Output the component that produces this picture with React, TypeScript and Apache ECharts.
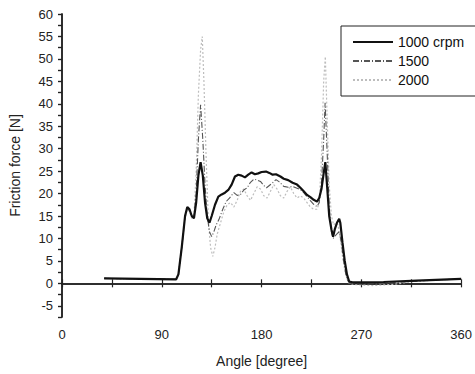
import React, { useEffect, useRef } from "react";
import * as echarts from "echarts";

const angles1000 = [38, 103, 105, 108, 111, 113, 115, 117, 119, 121, 123, 125, 127, 129, 131, 133, 135, 138, 141, 144, 147, 150, 153, 156, 159, 162, 165, 168, 171, 174, 177, 180, 184, 187, 190, 193, 197, 200, 204, 208, 212, 215, 218, 221, 224, 227, 230, 232, 234, 236, 237.5, 239, 241, 243, 244.5, 246, 248, 250, 251, 253, 255, 257, 259, 262, 270, 290, 320, 360];
const values1000 = [1.1, 0.9, 2, 8, 15, 17, 16.5, 15, 14.5, 18, 24, 27, 24, 18, 14.5, 13.5, 15, 17.5, 19.3, 19.8, 20.2, 20.8, 22, 23.8, 24.2, 24, 23.6, 24.2, 24.7, 24.3, 24.5, 24.8, 24.9, 24.6, 24.2, 24.3, 23.8, 23.3, 23, 22.4, 22, 21.3, 20.5, 19.7, 19.2, 18.6, 18.2, 19, 21, 24.5, 27, 22, 15, 12, 10.4, 12, 13.5, 14.4, 13.5, 9, 5, 2, 0.4, 0.2, 0.2, 0.3, 0.6, 1.0];

const angles1500 = [38, 103, 105, 108, 111, 113, 115, 117, 119, 121, 123, 125, 127, 129, 131, 133, 135, 137, 139, 141.5, 145, 148, 151, 155, 158, 161, 164, 167, 170, 173, 176, 179, 182, 184.5, 187, 190, 193, 196, 200, 204, 208, 212, 215, 218, 221, 224, 227, 230, 232, 234, 236, 237.3, 239, 241, 243, 244.5, 246, 248, 250, 252, 254, 256, 258, 260, 270, 290, 320, 360];
const values1500 = [1.1, 0.9, 2, 8, 15, 16.8, 16.2, 15, 14.8, 20, 32, 39.8, 32, 22, 15, 11.5, 10.4, 11.5, 13, 14.2, 16.5, 18.2, 19, 20.2, 19.6, 19.8, 20.8, 21.3, 22.5, 23.2, 23, 22.7, 21.8, 21.3, 21.8, 22.4, 23.1, 22.6, 21.6, 21.4, 21.6, 21.2, 20.9, 20.2, 19.3, 18.4, 17.6, 17.1, 18, 22, 32, 40.2, 30, 17, 11.5, 10, 10.5, 11, 11.5, 9, 5, 2, 0.5, 0, -0.2, 0, 0.5, 1];

const angles2000 = [38, 103, 105, 108, 111, 113, 115, 117, 119, 121, 123, 125, 126.5, 128, 130, 132, 134, 136, 138, 140, 143, 146, 149, 152, 155, 158, 161, 164, 167, 170, 173, 176, 179, 182, 185, 188, 191, 194, 197, 200, 203, 206, 209, 212, 215, 218, 221, 224, 227, 230, 232, 234, 236, 237.5, 239, 241, 243, 245, 247, 249, 251, 253, 255, 257, 259, 265, 280, 300, 320, 360];
const values2000 = [1.1, 0.9, 2, 8, 14.5, 16.5, 16, 14.5, 15, 25, 42, 52, 55, 45, 28, 14, 8, 6, 8, 11, 13.5, 16, 17.5, 18, 17, 18.5, 20.5, 21, 19.5, 18.5, 20, 21.5, 21, 19.5, 19, 20.5, 22, 21, 19.5, 19, 20.5, 21.5, 20, 19, 19.5, 19, 18, 17, 16.5, 16.5, 18, 28, 45, 50.5, 38, 22, 15, 13, 13.5, 13, 10, 6, 3, 1, 0, -0.3, -0.5, -0.2, 0.5, 1];

const seriesNames = ["1000 crpm", "1500", "2000"];
const xTickLabels = [0, 90, 180, 270, 360];

const FONT = "'Liberation Sans', Arial, sans-serif";

function pairs(xs: number[], ys: number[]) {
  return xs.map((x, i) => [x, ys[i]]);
}

export default function App() {
  const ref = useRef<HTMLDivElement>(null);
  useEffect(() => {
    if (!ref.current) return;
    const chart = echarts.init(ref.current, undefined, { renderer: "svg" });
    const axisLine = { show: true, lineStyle: { color: "#222", width: 1.5 } };
    const option: any = {
      animation: false,
      backgroundColor: "#fff",
      textStyle: { fontFamily: FONT },
      grid: { left: 62, right: 11, top: 14, bottom: 57 },
      legend: {
        data: seriesNames,
        orient: "vertical",
        left: 341,
        top: 26,
        itemWidth: 40,
        itemHeight: 14,
        itemGap: 5,
        padding: [9, 12, 9, 11],
        borderColor: "#222",
        borderWidth: 1,
        borderRadius: 0,
        backgroundColor: "#fff",
        itemStyle: { opacity: 0, borderWidth: 0 },
        textStyle: { fontSize: 14, color: "#111", fontFamily: FONT },
      },
      xAxis: [
        {
          type: "value",
          min: 0,
          max: 360,
          interval: 45,
          position: "bottom",
          name: "Angle [degree]",
          nameLocation: "middle",
          nameGap: 37,
          nameTextStyle: { fontSize: 14, color: "#222", fontFamily: FONT },
          axisLine,
          axisTick: { show: true, inside: true, length: 4, lineStyle: { color: "#222", width: 1.2 } },
          axisLabel: {
            fontSize: 13,
            color: "#222",
            margin: 11,
            fontFamily: FONT,
            formatter: (v: number) => (xTickLabels.includes(v) ? String(v) : ""),
          },
          splitLine: { show: false },
        },
        {
          type: "value",
          min: 0,
          max: 360,
          interval: 45,
          position: "top",
          axisLine,
          axisTick: { show: true, inside: true, length: 4, lineStyle: { color: "#222", width: 1.2 } },
          axisLabel: { show: false },
          splitLine: { show: false },
        },
      ],
      yAxis: [
        {
          type: "value",
          min: -7.5,
          max: 60,
          interval: 2.5,
          position: "left",
          name: "Friction force [N]",
          nameLocation: "middle",
          nameGap: 40,
          nameTextStyle: { fontSize: 14, color: "#222", fontFamily: FONT },
          axisLine,
          axisTick: { show: true, inside: false, length: 4, lineStyle: { color: "#222", width: 1.2 } },
          axisLabel: {
            fontSize: 13,
            color: "#222",
            margin: 9,
            fontFamily: FONT,
            formatter: (v: number) => (Math.abs(v % 5) < 1e-6 ? String(v) : ""),
          },
          splitLine: { show: false },
        },
        {
          type: "value",
          min: -7.5,
          max: 60,
          interval: 2.5,
          position: "right",
          axisLine,
          axisTick: { show: true, inside: true, length: 4, lineStyle: { color: "#222", width: 1.2 } },
          axisLabel: { show: false },
          splitLine: { show: false },
        },
      ],
      series: [
        {
          name: seriesNames[2],
          type: "line",
          symbol: "none",
          data: pairs(angles2000, values2000),
          lineStyle: { color: "#bdbdbd", width: 1.2, type: [2, 2] },
          itemStyle: { color: "#bdbdbd" },
          z: 2,
        },
        {
          name: seriesNames[1],
          type: "line",
          symbol: "none",
          data: pairs(angles1500, values1500),
          lineStyle: { color: "#555", width: 1.1, type: [6, 2, 1, 2] },
          itemStyle: { color: "#555" },
          z: 3,
        },
        {
          name: seriesNames[0],
          type: "line",
          symbol: "none",
          data: pairs(angles1000, values1000),
          lineStyle: { color: "#111", width: 2.2 },
          itemStyle: { color: "#111" },
          z: 4,
        },
      ],
    };
    chart.setOption(option);
    return () => chart.dispose();
  }, []);
  return (
    <div
      ref={ref}
      style={{ position: "fixed", left: 0, top: 0, width: 475, height: 374, background: "#fff" }}
    />
  );
}
